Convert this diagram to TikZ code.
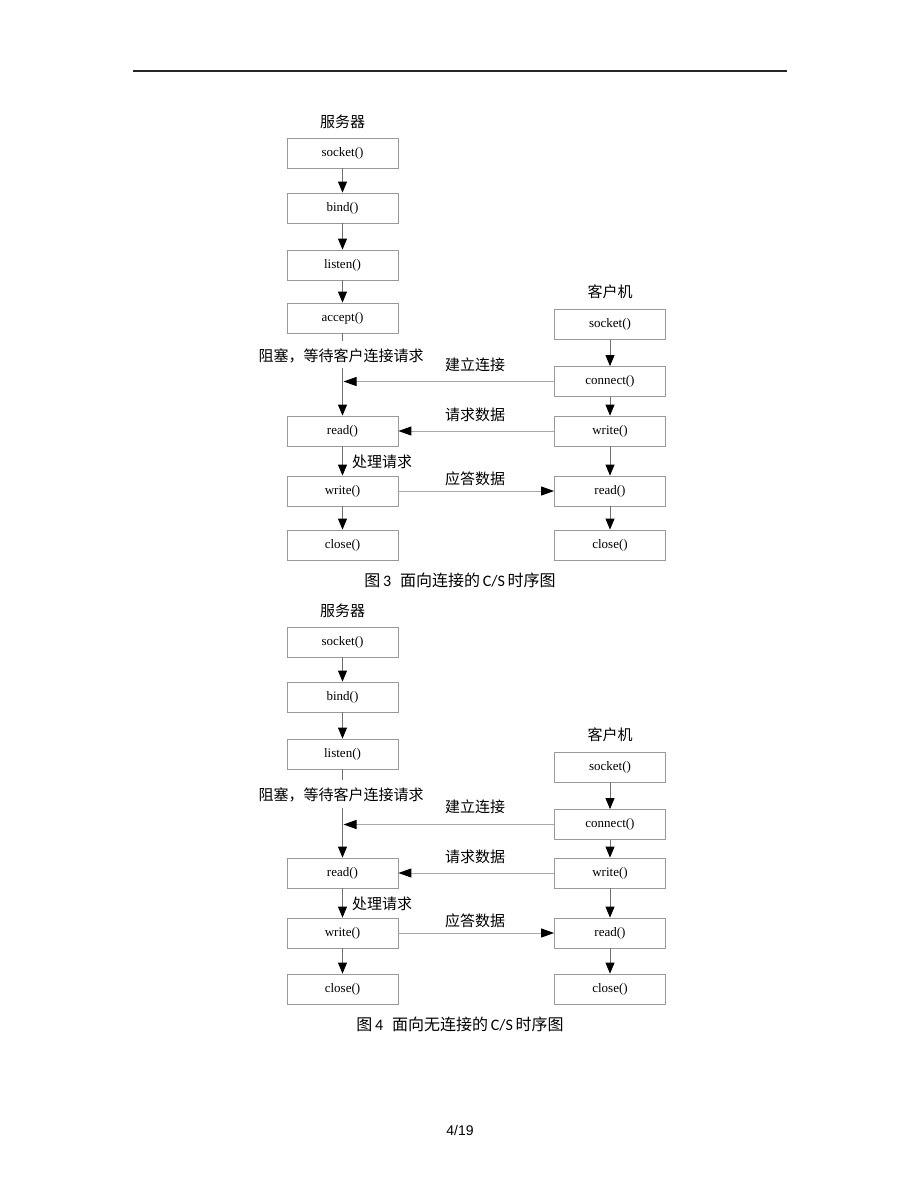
\documentclass[tikz,border=0pt]{standalone}
\usepackage{fontspec}
\setmainfont{Liberation Serif}
\newfontfamily\cjk{Noto Sans CJK SC}
\newfontfamily\capfont{Carlito}
\newfontfamily\pgfont{Liberation Sans}
\usetikzlibrary{arrows.meta}
\definecolor{boxgray}{HTML}{999999}
\definecolor{vgray}{HTML}{707070}
\definecolor{hgray}{HTML}{A8A8A8}
\tikzset{
  box/.style={draw=boxgray, line width=0.8pt, minimum width=111pt, minimum height=30pt, inner sep=0pt, font=\fontsize{13}{15}\selectfont},
  lbl/.style={inner sep=0pt, font=\cjk\fontsize{15}{17}\selectfont},
  vline/.style={draw=vgray, line width=0.8pt},
  varr/.style={vline, -{Triangle[length=11pt,width=9pt,color=black]}},
  harr/.style={draw=hgray, line width=0.9pt, -{Triangle[length=13pt,width=9pt,color=black]}},
  capt/.style={inner sep=0pt, font=\fontsize{16}{19}\selectfont}
}
\begin{document}
\begin{tikzpicture}[x=1pt,y=-1pt]
\useasboundingbox[fill=white] (0,0) rectangle (920,1191);
% header rule
\coordinate (hl) at (133,71);
\coordinate (hr) at (787,71);
\draw[line width=1.2pt, black!85] (hl) -- (hr);

% ===== Figure 3 =====
\node[lbl] (s1title) at (342.5,122) {服务器};
\node[box] (s1socket) at (342.5,153) {socket()};
\node[box] (s1bind) at (342.5,208) {bind()};
\node[box] (s1listen) at (342.5,265) {listen()};
\node[box] (s1accept) at (342.5,318) {accept()};
\node[lbl] (s1block) at (341,356) {阻塞，等待客户连接请求};
\node[box] (s1read) at (342.5,431) {read()};
\node[lbl, anchor=west] (s1proc) at (352,462) {处理请求};
\node[box] (s1write) at (342.5,491) {write()};
\node[box] (s1close) at (342.5,545) {close()};

\node[lbl] (c1title) at (610,292) {客户机};
\node[box] (c1socket) at (610,324.5) {socket()};
\node[box] (c1connect) at (610,381.5) {connect()};
\node[box] (c1write) at (610,431) {write()};
\node[box] (c1read) at (610,491) {read()};
\node[box] (c1close) at (610,545) {close()};

\node[lbl] (m1conn) at (475,365) {建立连接};
\node[lbl] (m1req) at (475,415) {请求数据};
\node[lbl] (m1resp) at (475,479) {应答数据};

\coordinate (s1gap1) at (342.5,341);
\coordinate (s1gap2) at (342.5,368);
\coordinate (s1hit) at (343.5,381.5);

\draw[varr] (s1socket) -- (s1bind);
\draw[varr] (s1bind) -- (s1listen);
\draw[varr] (s1listen) -- (s1accept);
\draw[vline] (s1accept) -- (s1gap1);
\draw[varr] (s1gap2) -- (s1read);
\draw[varr] (s1read) -- (s1write);
\draw[varr] (s1write) -- (s1close);
\draw[varr] (c1socket) -- (c1connect);
\draw[varr] (c1connect) -- (c1write);
\draw[varr] (c1write) -- (c1read);
\draw[varr] (c1read) -- (c1close);
\draw[harr] (c1connect.west) -- (s1hit);
\draw[harr] (c1write.west) -- (s1read.east);
\draw[harr] (s1write.east) -- (c1read.west);

\node[capt] (cap1) at (460,580) {{\cjk 图}\,{\capfont 3}\hspace{9pt}{\cjk 面向连接的}\,{\capfont C/S}\,{\cjk 时序图}};

% ===== Figure 4 =====
\node[lbl] (s2title) at (342.5,611) {服务器};
\node[box] (s2socket) at (342.5,642) {socket()};
\node[box] (s2bind) at (342.5,697) {bind()};
\node[box] (s2listen) at (342.5,754) {listen()};
\node[lbl] (s2block) at (341,795) {阻塞，等待客户连接请求};
\node[box] (s2read) at (342.5,873) {read()};
\node[lbl, anchor=west] (s2proc) at (352,904) {处理请求};
\node[box] (s2write) at (342.5,933) {write()};
\node[box] (s2close) at (342.5,989) {close()};

\node[lbl] (c2title) at (610,735) {客户机};
\node[box] (c2socket) at (610,767) {socket()};
\node[box] (c2connect) at (610,824.5) {connect()};
\node[box] (c2write) at (610,873) {write()};
\node[box] (c2read) at (610,933) {read()};
\node[box] (c2close) at (610,989) {close()};

\node[lbl] (m2conn) at (475,807) {建立连接};
\node[lbl] (m2req) at (475,857) {请求数据};
\node[lbl] (m2resp) at (475,921) {应答数据};

\coordinate (s2gap1) at (342.5,780);
\coordinate (s2gap2) at (342.5,808);
\coordinate (s2hit) at (343.5,824.5);

\draw[varr] (s2socket) -- (s2bind);
\draw[varr] (s2bind) -- (s2listen);
\draw[vline] (s2listen) -- (s2gap1);
\draw[varr] (s2gap2) -- (s2read);
\draw[varr] (s2read) -- (s2write);
\draw[varr] (s2write) -- (s2close);
\draw[varr] (c2socket) -- (c2connect);
\draw[varr] (c2connect) -- (c2write);
\draw[varr] (c2write) -- (c2read);
\draw[varr] (c2read) -- (c2close);
\draw[harr] (c2connect.west) -- (s2hit);
\draw[harr] (c2write.west) -- (s2read.east);
\draw[harr] (s2write.east) -- (c2read.west);

\node[capt] (cap2) at (460,1024) {{\cjk 图}\,{\capfont 4}\hspace{9pt}{\cjk 面向无连接的}\,{\capfont C/S}\,{\cjk 时序图}};

\node[inner sep=0pt, font=\pgfont\fontsize{14}{16}\selectfont] (pagenum) at (460,1130) {4/19};
\end{tikzpicture}
\end{document}
